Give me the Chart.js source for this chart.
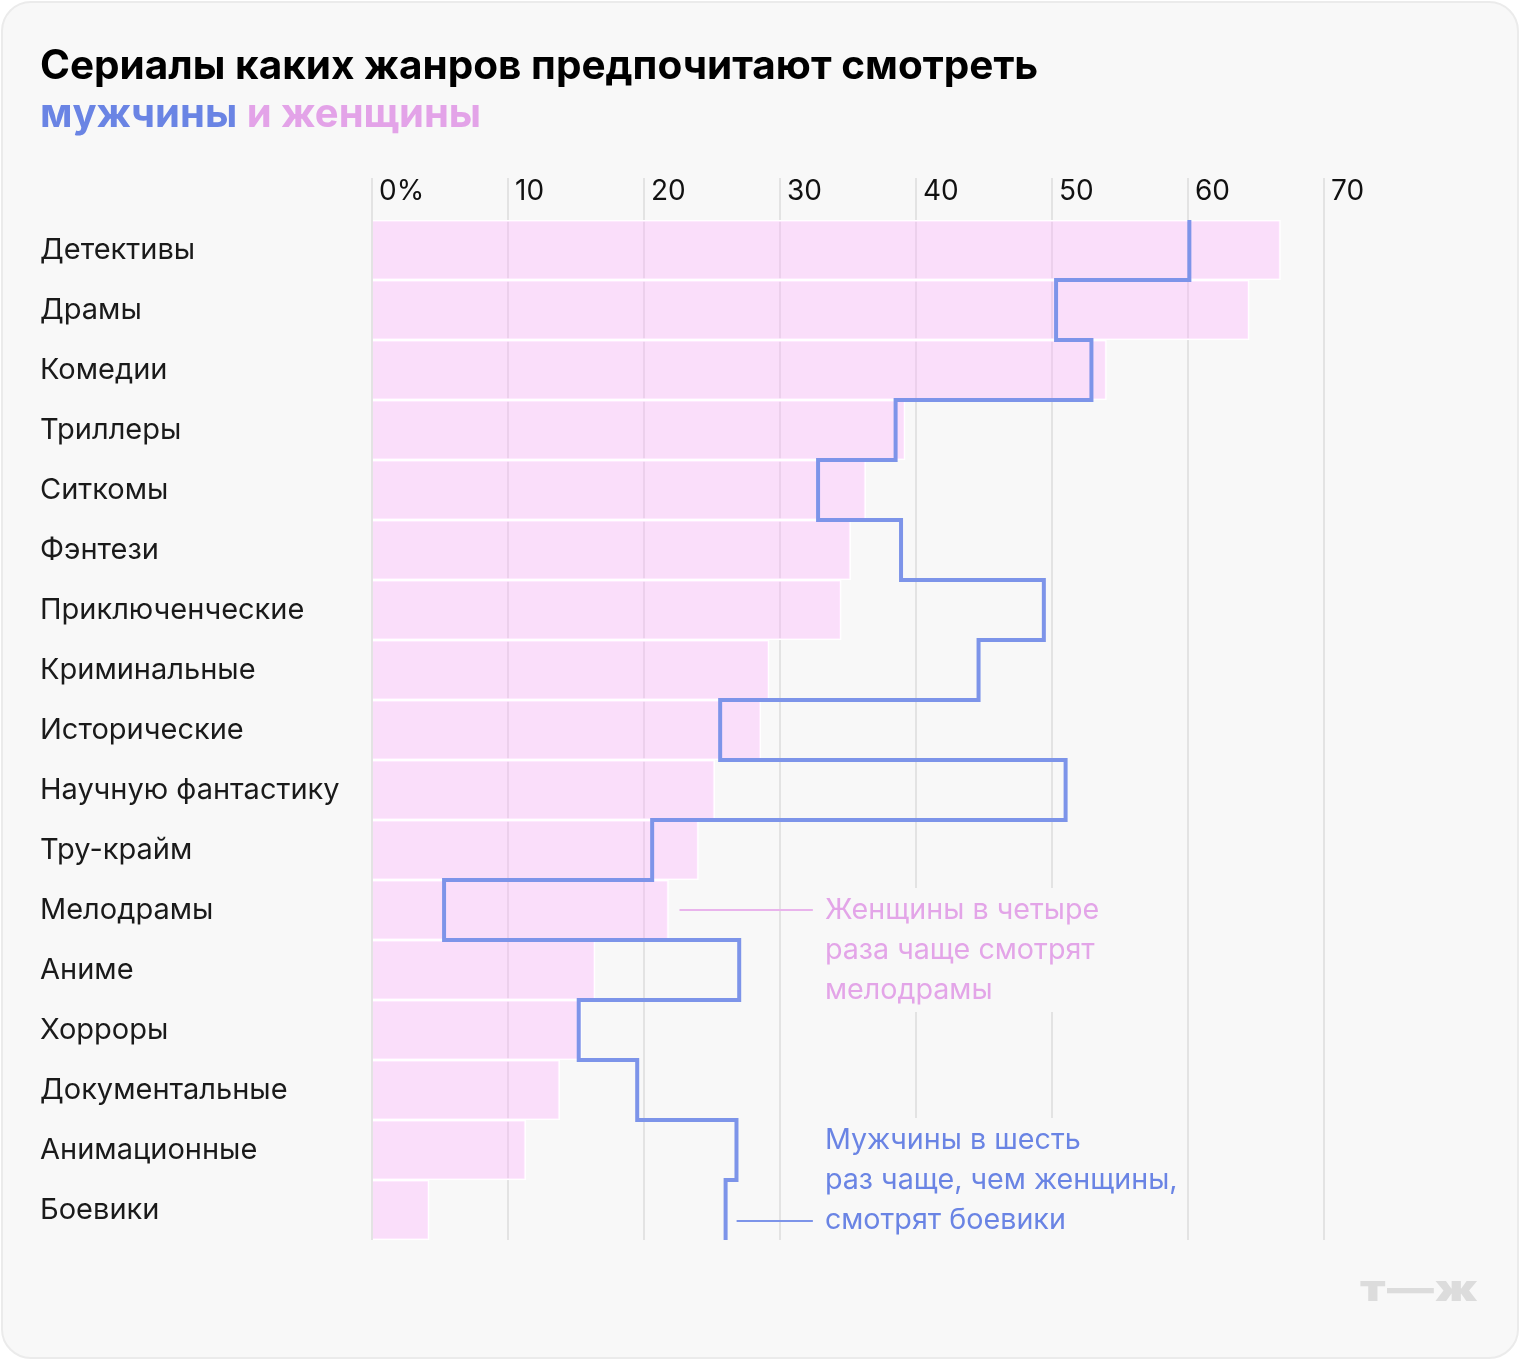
<!DOCTYPE html>
<html lang="ru">
<head>
<meta charset="utf-8">
<title>Сериалы каких жанров предпочитают смотреть мужчины и женщины</title>
<script src="https://cdn.jsdelivr.net/npm/chart.js@4.4.1/dist/chart.umd.min.js"></script>
<style>
  html, body { margin: 0; padding: 0; background: #ffffff; }
  body { position: relative; width: 1520px; height: 1360px; overflow: hidden; font-family: Inter, "Noto Sans", sans-serif; }
  .card {
    position: absolute; left: 1px; top: 1px; width: 1518px; height: 1358px;
    box-sizing: border-box; background: #f8f8f8; border: 2px solid #ebebeb; border-radius: 30px;
  }
  #chart { position: absolute; left: 0; top: 0; }
  .title { position: absolute; left: 40px; margin: 0; font-weight: 700; white-space: nowrap; }
  .title.main { top: 43px; font-size: 40.5px; line-height: 44px; color: #000; }
  .title.sub { top: 88px; font-size: 40px; line-height: 50px; }
  .men { color: #6a84e4; }
  .women { color: #e3a3e8; }
  .logo {
    position: absolute; left: 1360px; top: 1266px; font-size: 36px; font-weight: 900; color: #dcdcdc;
    transform: scaleX(1.3); transform-origin: left center; letter-spacing: 1px;
  }
</style>
</head>
<body>
<div class="card"></div>
<canvas id="chart" width="1520" height="1360"></canvas>
<div class="title main">Сериалы каких жанров предпочитают смотреть</div>
<div class="title sub"><span class="men">мужчины</span> <span class="women">и женщины</span></div>
<div class="logo">т—ж</div>

<script>
// Жанры сверху вниз
const genres = [
  "Детективы", "Драмы", "Комедии", "Триллеры", "Ситкомы", "Фэнтези",
  "Приключенческие", "Криминальные", "Исторические", "Научную фантастику",
  "Тру-крайм", "Мелодрамы", "Аниме", "Хорроры", "Документальные",
  "Анимационные", "Боевики"
];

// Доля, %
const women = [66.8, 64.5, 54.0, 39.2, 36.3, 35.2, 34.5, 29.2, 28.6, 25.2, 24.0, 21.8, 16.4, 15.4, 13.8, 11.3, 4.2];
const men = [60.1, 50.3, 52.9, 38.5, 32.8, 38.9, 49.4, 44.6, 25.6, 51.0, 20.6, 5.3, 27.0, 15.2, 19.5, 26.8, 26.0];

const xTickLabels = ["0%", "10", "20", "30", "40", "50", "60", "70"];

const noteWomen = ["Женщины в четыре", "раза чаще смотрят", "мелодрамы"];
const noteMen = ["Мужчины в шесть", "раз чаще, чем женщины,", "смотрят боевики"];

const PINK_TEXT = "#e3a5e8";
const BLUE = "#7d94e9";
const BLUE_TEXT = "#6a84e4";
const CARD_BG = "#f8f8f8";

// Подписи справа от графика
const notesPlugin = {
  id: "notes",
  afterDatasetsDraw(chart) {
    const { ctx, scales: { x, y } } = chart;
    const textX = x.getPixelForValue(33.3);
    const lineH = 40;

    ctx.save();
    ctx.font = "28.7px Inter";
    ctx.textBaseline = "middle";
    ctx.textAlign = "left";

    // Мелодрамы: первая строка на уровне строки графика
    let i = genres.indexOf("Мелодрамы");
    let rowY = y.getPixelForValue(i + 0.5);
    let w = Math.max(...noteWomen.map(t => ctx.measureText(t).width));
    ctx.fillStyle = CARD_BG;
    ctx.fillRect(textX - 8, rowY - 22, w + 16, lineH * 2 + 44);
    ctx.strokeStyle = "#e9b4ec";
    ctx.lineWidth = 2;
    ctx.beginPath();
    ctx.moveTo(x.getPixelForValue(women[i]) + 11, rowY);
    ctx.lineTo(textX - 12, rowY);
    ctx.stroke();
    ctx.fillStyle = PINK_TEXT;
    noteWomen.forEach((t, k) => ctx.fillText(t, textX, rowY + k * lineH));

    // Боевики: последняя строка у нижней линии
    i = genres.indexOf("Боевики");
    rowY = y.getPixelForValue(i + 0.5) + 10;
    w = Math.max(...noteMen.map(t => ctx.measureText(t).width));
    ctx.fillStyle = CARD_BG;
    ctx.fillRect(textX - 8, rowY - lineH * 2 - 22, w + 4, lineH * 2 + 42);
    ctx.strokeStyle = BLUE;
    ctx.beginPath();
    ctx.moveTo(x.getPixelForValue(men[i]) + 11, rowY + 1);
    ctx.lineTo(textX - 12, rowY + 1);
    ctx.stroke();
    ctx.fillStyle = BLUE_TEXT;
    noteMen.forEach((t, k) => ctx.fillText(t, textX, rowY - (noteMen.length - 1 - k) * lineH));

    ctx.restore();
  }
};

function draw() {
  const ctx = document.getElementById("chart").getContext("2d");

  new Chart(ctx, {
    type: "bar",
    data: {
      datasets: [
        {
          type: "line",
          label: "Мужчины",
          // ступенька: вертикаль на уровне строки, переход на границе строк
          data: men.flatMap((v, i) => [{ x: v, y: i }, { x: v, y: i + 1 }]),
          borderColor: BLUE,
          borderWidth: 4,
          borderJoinStyle: "miter",
          borderCapStyle: "butt",
          pointRadius: 0,
          tension: 0,
          fill: false,
          clip: false,
          order: 0
        },
        {
          label: "Женщины",
          data: women.map((v, i) => ({ x: v, y: i + 0.5 })),
          backgroundColor: "rgba(255, 172, 255, 0.34)",
          borderColor: "#ffffff",
          borderWidth: 1.5,
          borderSkipped: "start",
          grouped: false,
          barPercentage: 1,
          categoryPercentage: 1,
          order: 1
        }
      ]
    },
    options: {
      indexAxis: "y",
      responsive: false,
      animation: false,
      events: [],
      layout: { padding: { left: 40, right: 196, top: 150, bottom: 120 } },
      plugins: {
        legend: { display: false },
        tooltip: { enabled: false }
      },
      scales: {
        x: {
          type: "linear",
          position: "top",
          min: 0,
          max: 70,
          border: { display: false },
          grid: { color: "#e3e3e3", lineWidth: 2, tickLength: 42, drawTicks: true },
          ticks: {
            stepSize: 10,
            autoSkip: false,
            maxRotation: 0,
            align: "start",
            labelOffset: 7,
            padding: -30,
            color: "#111111",
            font: { family: "Inter", size: 28 },
            callback: (v, i) => xTickLabels[i]
          },
          afterFit: scale => { scale.height = 70; }
        },
        y: {
          type: "linear",
          position: "left",
          min: 0,
          max: genres.length,
          reverse: true,
          offset: false,
          border: { display: false },
          grid: { display: false, offset: false },
          afterBuildTicks: scale => {
            scale.ticks = genres.map((g, i) => ({ value: i + 0.5 }));
          },
          ticks: {
            autoSkip: false,
            crossAlign: "far",
            padding: 0,
            color: "#1a1a1a",
            font: { family: "Inter", size: 29 },
            callback: (v, i) => genres[i]
          },
          afterFit: scale => { scale.width = 332; }
        }
      }
    },
    plugins: [notesPlugin]
  });
}

document.addEventListener("DOMContentLoaded", function () {
  Promise.all([
    document.fonts.load("29px Inter"),
    document.fonts.load("700 40px Inter")
  ]).then(draw, draw);
});
</script>
</body>
</html>
